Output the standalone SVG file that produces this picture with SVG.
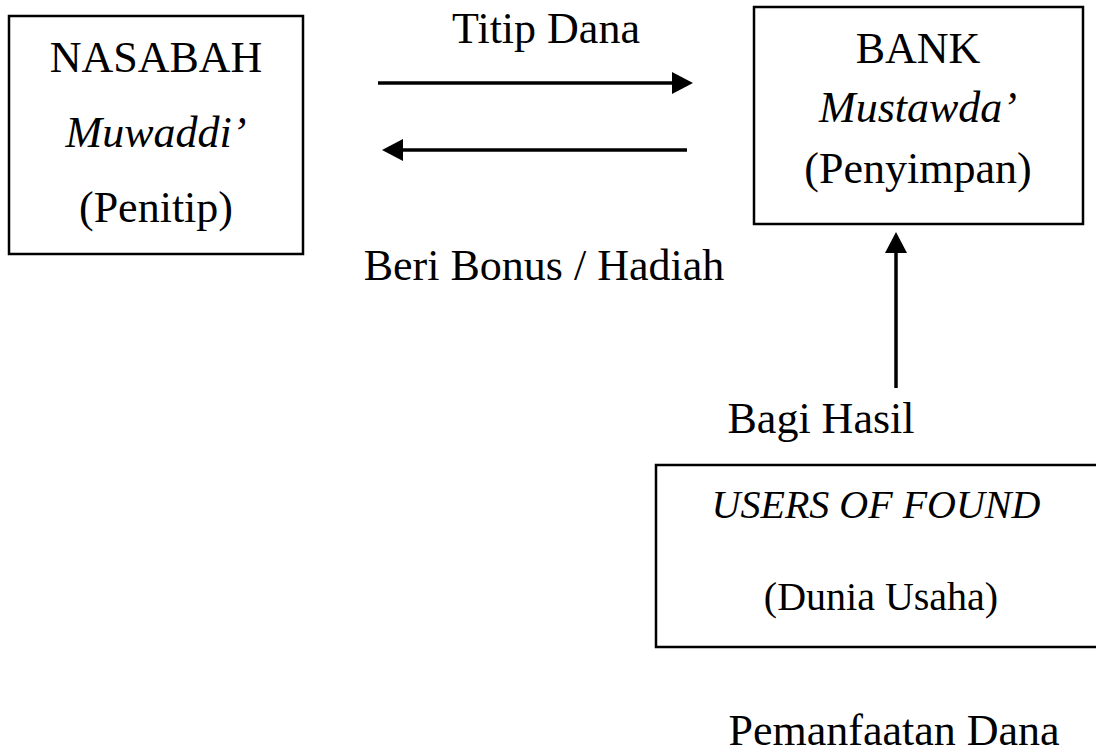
<svg xmlns="http://www.w3.org/2000/svg" width="1096" height="749" viewBox="0 0 1096 749">
<style>
text{font-family:"Liberation Serif","Times New Roman",serif;fill:#000;text-anchor:middle;font-size:44px}
.it{font-style:italic}
.sm{font-size:40px}
.box{fill:#fff;stroke:#000;stroke-width:2.5}
.ln{stroke:#000;stroke-width:3.5;fill:none}
.hd{fill:#000}
</style>
<rect width="1096" height="749" fill="#fff"/>
<g id="nasabah">
<rect class="box" x="9" y="16" width="294" height="238"/>
<text x="156" y="72">NASABAH</text>
<text class="it" x="156" y="147">Muwaddi’</text>
<text x="156" y="222">(Penitip)</text>
</g>
<g id="bank">
<rect class="box" x="754" y="7" width="329" height="217"/>
<text x="918" y="63">BANK</text>
<text class="it" x="918" y="122">Mustawda’</text>
<text x="918" y="183">(Penyimpan)</text>
</g>
<g id="users">
<rect class="box" x="656" y="465" width="460" height="182"/>
<text class="it sm" x="876" y="518">USERS OF FOUND</text>
<text class="sm" x="881" y="610">(Dunia Usaha)</text>
</g>
<g id="connectors">
<line class="ln" x1="378" y1="83" x2="674" y2="83"/>
<polygon class="hd" points="672,72 693,83 672,94"/>
<line class="ln" x1="687" y1="150" x2="401" y2="150"/>
<polygon class="hd" points="403,139 382,150 403,161"/>
<line class="ln" x1="896" y1="388" x2="896" y2="251"/>
<polygon class="hd" points="885,253 896,232 907,253"/>
</g>
<g id="labels">
<text x="546" y="43">Titip Dana</text>
<text x="544" y="280">Beri Bonus / Hadiah</text>
<text x="821" y="433">Bagi Hasil</text>
<text x="894" y="745">Pemanfaatan Dana</text>
</g>
</svg>
